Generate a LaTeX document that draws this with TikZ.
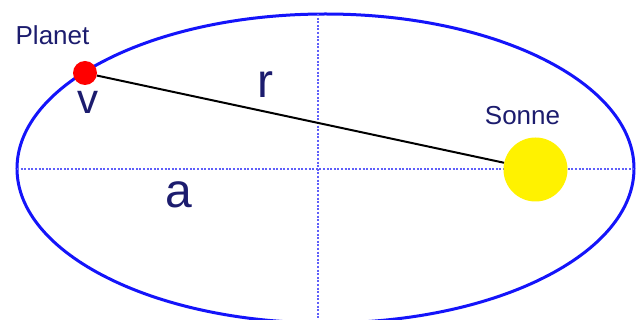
\documentclass[tikz,border=0pt]{standalone}
\usepackage{fontspec}
\setmainfont{Liberation Sans}
\usetikzlibrary{positioning}

\definecolor{navy}{RGB}{28,28,110}
\definecolor{orbitblue}{RGB}{20,20,250}
\definecolor{axisblue}{RGB}{95,95,250}

\begin{document}
\begin{tikzpicture}[
        x=1pt, y=-1pt,
        orbitline/.style={draw=orbitblue, line width=3pt},
        axisline/.style={draw=axisblue, line width=2pt, dash pattern=on 2pt off 1.6pt},
        body/.style={circle, inner sep=0pt},
        bodylabel/.style={text=navy, font=\fontsize{26}{30}\selectfont, anchor=base},
        symbollabel/.style={text=navy, font=\fontsize{48}{54}\selectfont, anchor=base}
    ]
        \useasboundingbox (0,0) rectangle (638,320);
        \fill[white] (0,0) rectangle (638,320);

        % orbit and its axes
        \draw[orbitline] (325.5,168.5) ellipse [x radius=308.5, y radius=154.5];
        \coordinate (left) at (17,169);
        \coordinate (right) at (634,169);
        \coordinate (top) at (318,14);
        \coordinate (bottom) at (318,320);
        \draw[axisline] (left) -- (right);
        \draw[axisline] (top) -- (bottom);

        % bodies
        \node[body, fill=red, minimum size=24pt] (planet) at (85,73) {};
        \node[body, fill=yellow, minimum size=64pt] (sun) at (535.5,169.5) {};
        \draw[black, line width=2pt] (planet) -- (sun);

        % labels
        \node[bodylabel] (planetlabel) at (52.5,45) {Planet};
        \node[bodylabel] (sunlabel) at (522.5,125) {Sonne};
        \node[symbollabel, font=\fontsize{42}{48}\selectfont] (vlabel) at (88,114) {v};
        \node[symbollabel] (rlabel) at (265,98) {r};
        \node[symbollabel] (alabel) at (179,208) {a};
    \end{tikzpicture}
\end{document}
